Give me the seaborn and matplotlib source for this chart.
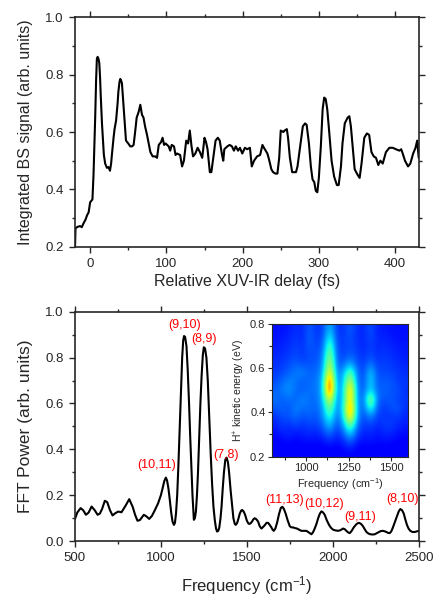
import numpy as np
import matplotlib
matplotlib.use('Agg')
import matplotlib.pyplot as plt
from matplotlib.ticker import MultipleLocator, FormatStrFormatter
import seaborn as sns

# --- top panel: integrated BS signal vs delay ---
delay = [-19.8, -19.2, -16, -13, -11, -9, -6, -4, -2, 0,
         2, 3, 4.4, 5.5, 6.6, 7.8, 8.8, 9.8, 11, 12,
         13, 14, 15.5, 16.7, 18, 19.7, 22, 24, 26, 27.5,
         28.5, 30.7, 32, 34, 36, 37, 38.5, 39.5, 40.5, 41.7,
         43, 44, 45.5, 47, 50, 52.6, 55, 57, 59, 61,
         63.6, 65.8, 68, 70, 72, 74.6, 76.8, 79, 82, 85.5,
         87.7, 90, 93, 95, 97, 99, 101, 103, 105, 107,
         110, 112, 114, 118, 120.6, 123, 126, 128.5, 130.7, 133,
         135, 138, 141, 144, 147, 150, 152, 154, 157, 159,
         162, 164.5, 167.5, 170, 173, 174.6, 176, 180, 183, 186,
         188.6, 191, 194, 196.5, 199.5, 203, 206, 209.6, 212, 215,
         219, 223, 226, 228, 232.5, 234.6, 237.7, 240, 243, 245.6,
         248, 250, 253.5, 255, 258, 259.6, 262, 265, 270, 272,
         276, 279, 282, 284, 287, 289.5, 291.7, 294, 296, 298,
         300, 302.6, 305, 307, 309, 311, 313.6, 316.7, 320, 323.7,
         326, 329, 331, 334, 337.7, 340, 342, 345, 347, 351,
         353.5, 356, 359.6, 363, 366, 369, 372, 375, 378, 380.7,
         383.8, 388, 392.5, 397, 401, 405.7, 408, 410, 413, 417,
         420, 423.7, 426.8, 429, 431]
bs_signal = [0.20, 0.265, 0.27, 0.272, 0.268, 0.28, 0.295, 0.31, 0.32, 0.355,
             0.362, 0.365, 0.45, 0.55, 0.65, 0.78, 0.855, 0.862, 0.855, 0.84,
             0.79, 0.72, 0.63, 0.58, 0.52, 0.49, 0.475, 0.478, 0.465, 0.49,
             0.52, 0.58, 0.61, 0.64, 0.70, 0.74, 0.775, 0.785, 0.78, 0.77,
             0.72, 0.68, 0.62, 0.57, 0.56, 0.55, 0.55, 0.555, 0.60, 0.65,
             0.67, 0.695, 0.66, 0.65, 0.62, 0.59, 0.56, 0.53, 0.515, 0.515,
             0.51, 0.555, 0.565, 0.58, 0.555, 0.56, 0.555, 0.55, 0.535, 0.555,
             0.55, 0.52, 0.525, 0.52, 0.48, 0.50, 0.57, 0.56, 0.605, 0.55,
             0.515, 0.525, 0.545, 0.53, 0.51, 0.58, 0.565, 0.54, 0.46, 0.46,
             0.52, 0.57, 0.58, 0.57, 0.52, 0.50, 0.54, 0.55, 0.555, 0.55,
             0.535, 0.55, 0.535, 0.545, 0.525, 0.545, 0.54, 0.545, 0.48, 0.50,
             0.515, 0.52, 0.555, 0.545, 0.525, 0.505, 0.47, 0.46, 0.455, 0.455,
             0.51, 0.605, 0.60, 0.605, 0.61, 0.58, 0.51, 0.46, 0.46, 0.48,
             0.56, 0.62, 0.63, 0.625, 0.56, 0.48, 0.435, 0.425, 0.395, 0.39,
             0.44, 0.55, 0.68, 0.72, 0.715, 0.68, 0.60, 0.50, 0.445, 0.415,
             0.415, 0.48, 0.56, 0.63, 0.65, 0.655, 0.62, 0.53, 0.47, 0.45,
             0.44, 0.49, 0.58, 0.595, 0.59, 0.53, 0.515, 0.51, 0.485, 0.50,
             0.49, 0.53, 0.545, 0.545, 0.54, 0.535, 0.54, 0.525, 0.50, 0.48,
             0.49, 0.525, 0.545, 0.57, 0.51]

# --- bottom panel: FFT power spectrum ---
freq = [500, 514, 533, 548, 564, 580, 597, 615, 632, 645,
        658, 674, 688, 704, 719, 735, 752, 771, 795, 816,
        836, 850, 864, 878, 901, 916, 932, 948, 965, 984,
        1000, 1010, 1020, 1029, 1036, 1044, 1052, 1060, 1068, 1076,
        1082, 1088, 1095, 1102, 1110, 1117, 1124, 1130, 1135, 1141,
        1149, 1156, 1164, 1171, 1178, 1184, 1192, 1198, 1204, 1210,
        1216, 1223, 1230, 1237, 1244, 1250, 1257, 1265, 1273, 1281,
        1290, 1298, 1306, 1314, 1321, 1327, 1334, 1340, 1347, 1353,
        1360, 1367, 1375, 1382, 1390, 1397, 1406, 1415, 1422, 1430,
        1436, 1444, 1452, 1459, 1467, 1473, 1481, 1490, 1500, 1508,
        1515, 1522, 1530, 1538, 1546, 1556, 1566, 1575, 1585, 1595,
        1605, 1615, 1624, 1634, 1643, 1650, 1657, 1666, 1676, 1688,
        1698, 1707, 1716, 1726, 1738, 1750, 1760, 1769, 1780, 1792,
        1805, 1817, 1832, 1847, 1862, 1876, 1886, 1895, 1905, 1915,
        1925, 1934, 1944, 1953, 1966, 1979, 1990, 2002, 2015, 2031,
        2045, 2060, 2070, 2079, 2090, 2099, 2110, 2122, 2135, 2145,
        2153, 2165, 2176, 2186, 2196, 2208, 2219, 2232, 2244, 2256,
        2269, 2280, 2292, 2302, 2312, 2322, 2331, 2340, 2350, 2362,
        2374, 2384, 2393, 2403, 2413, 2422, 2432, 2441, 2451, 2464,
        2477, 2490, 2500]
fft_power = [0.096, 0.125, 0.144, 0.135, 0.115, 0.125, 0.151, 0.135, 0.115, 0.12,
             0.14, 0.176, 0.17, 0.135, 0.112, 0.122, 0.129, 0.126, 0.155, 0.183,
             0.15, 0.115, 0.089, 0.092, 0.115, 0.108, 0.097, 0.11, 0.135, 0.165,
             0.2, 0.23, 0.262, 0.277, 0.265, 0.23, 0.18, 0.125, 0.085, 0.071,
             0.08, 0.12, 0.2, 0.33, 0.5, 0.65, 0.8, 0.875, 0.894, 0.89,
             0.85, 0.75, 0.6, 0.45, 0.32, 0.2, 0.093, 0.1, 0.13, 0.2,
             0.3, 0.45, 0.6, 0.72, 0.81, 0.845, 0.84, 0.8, 0.7, 0.55,
             0.38, 0.25, 0.15, 0.09, 0.055, 0.042, 0.045, 0.06, 0.1, 0.15,
             0.23, 0.3, 0.355, 0.364, 0.345, 0.3, 0.22, 0.15, 0.1, 0.075,
             0.071, 0.08, 0.1, 0.12, 0.133, 0.136, 0.13, 0.115, 0.09, 0.078,
             0.075, 0.078, 0.085, 0.095, 0.1, 0.095, 0.085, 0.065, 0.055, 0.062,
             0.07, 0.08, 0.08, 0.07, 0.06, 0.05, 0.045, 0.055, 0.08, 0.12,
             0.145, 0.15, 0.14, 0.12, 0.09, 0.065, 0.06, 0.06, 0.057, 0.055,
             0.05, 0.045, 0.045, 0.045, 0.037, 0.03, 0.04, 0.055, 0.075, 0.1,
             0.12, 0.13, 0.125, 0.115, 0.09, 0.07, 0.058, 0.05, 0.047, 0.045,
             0.048, 0.055, 0.052, 0.045, 0.038, 0.035, 0.045, 0.06, 0.072, 0.078,
             0.08, 0.075, 0.065, 0.052, 0.04, 0.033, 0.03, 0.029, 0.03, 0.035,
             0.04, 0.044, 0.045, 0.043, 0.04, 0.036, 0.035, 0.042, 0.06, 0.085,
             0.11, 0.13, 0.14, 0.135, 0.12, 0.095, 0.07, 0.055, 0.045, 0.04,
             0.04, 0.043, 0.045]

peak_labels = ['(9,10)', '(8,9)', '(10,11)', '(7,8)', '(11,13)', '(10,12)', '(9,11)', '(8,10)']
label_x = [1140, 1252, 975, 1378, 1720, 1950, 2157, 2405]
label_y = [0.942, 0.88, 0.33, 0.376, 0.18, 0.163, 0.105, 0.184]

# --- inset: H+ kinetic energy vs frequency map, coarse cells ---
# cells are 40 cm-1 wide (800..1600) and 0.04 eV tall (0.2..0.8), rows from low energy up
map_values = [
    [.11, .11, .11, .11, .11, .11, .11, .11, .12, .11, .12, .13, .12, .11, .11, .11, .11, .11, .11, .11],
    [.12, .12, .13, .12, .13, .13, .13, .13, .15, .13, .15, .19, .14, .13, .14, .13, .13, .13, .12, .12],
    [.13, .15, .16, .14, .15, .16, .15, .17, .22, .16, .20, .32, .19, .15, .16, .14, .16, .15, .14, .13],
    [.15, .18, .16, .19, .17, .19, .18, .22, .32, .19, .27, .48, .24, .17, .19, .16, .18, .19, .16, .15],
    [.17, .20, .21, .23, .20, .22, .20, .26, .42, .22, .33, .76, .28, .19, .25, .18, .18, .17, .18, .16],
    [.21, .23, .20, .26, .23, .24, .22, .28, .52, .24, .35, .86, .28, .21, .42, .21, .18, .20, .22, .17],
    [.24, .21, .24, .22, .26, .23, .23, .30, .68, .25, .33, .76, .27, .22, .58, .23, .20, .22, .18, .18],
    [.22, .25, .27, .23, .22, .24, .23, .32, .93, .26, .32, .80, .26, .21, .36, .22, .23, .20, .21, .17],
    [.20, .23, .26, .24, .21, .23, .24, .31, .92, .25, .31, .64, .25, .20, .35, .21, .21, .22, .18, .18],
    [.18, .20, .22, .25, .26, .22, .23, .28, .74, .24, .29, .50, .24, .19, .34, .20, .20, .19, .18, .17],
    [.17, .18, .20, .22, .20, .21, .21, .26, .63, .22, .22, .30, .21, .18, .25, .18, .19, .18, .17, .16],
    [.16, .17, .18, .20, .18, .20, .20, .24, .56, .21, .19, .22, .19, .17, .20, .17, .18, .17, .16, .15],
    [.15, .16, .17, .19, .17, .22, .19, .22, .48, .20, .18, .20, .18, .16, .19, .16, .17, .16, .15, .15],
    [.14, .15, .16, .18, .16, .23, .18, .20, .40, .19, .18, .21, .17, .16, .20, .16, .16, .15, .14, .14],
    [.14, .14, .15, .17, .16, .22, .17, .19, .32, .18, .17, .22, .17, .16, .21, .15, .15, .14, .14, .14],
]
map_freq_range = [800, 1600]
map_energy_range = [0.2, 0.8]

sns.set_style('ticks')
plt.rcParams['font.family'] = ['Liberation Sans', 'DejaVu Sans']
plt.rcParams['mathtext.default'] = 'regular'
plt.rcParams['axes.linewidth'] = 1.2

fig = plt.figure(figsize=(4.33, 5.96), dpi=100)
ax1 = fig.add_axes([0.173, 0.586, 0.794, 0.385])
ax2 = fig.add_axes([0.173, 0.092, 0.794, 0.385])
ax3 = fig.add_axes([0.629, 0.234, 0.313, 0.222])

sns.lineplot(x=delay, y=bs_signal, ax=ax1, color='black', linewidth=1.5)
ax1.set_xlim(-20, 431)
ax1.set_ylim(0.2, 1.0)
ax1.xaxis.set_major_locator(MultipleLocator(100))
ax1.xaxis.set_minor_locator(MultipleLocator(50))
ax1.yaxis.set_major_locator(MultipleLocator(0.2))
ax1.yaxis.set_minor_locator(MultipleLocator(0.1))
ax1.set_xlabel('Relative XUV-IR delay (fs)', fontsize=11.5, labelpad=3)
ax1.set_ylabel('Integrated BS signal (arb. units)', fontsize=11.5, labelpad=9)

sns.lineplot(x=freq, y=fft_power, ax=ax2, color='black', linewidth=1.5)
ax2.set_xlim(500, 2500)
ax2.set_ylim(0, 1.0)
ax2.xaxis.set_major_locator(MultipleLocator(500))
ax2.xaxis.set_minor_locator(MultipleLocator(250))
ax2.yaxis.set_major_locator(MultipleLocator(0.2))
ax2.yaxis.set_minor_locator(MultipleLocator(0.1))
ax2.set_xlabel('Frequency (cm$^{-1}$)', fontsize=12, labelpad=7)
ax2.set_ylabel('FFT Power (arb. units)', fontsize=12.5, labelpad=9)
for lab, lx, ly in zip(peak_labels, label_x, label_y):
    ax2.text(lx, ly, lab, color='red', fontsize=9, ha='center', va='center')

for ax in (ax1, ax2):
    ax.tick_params(which='both', direction='out', top=True, right=True, labelsize=9.5, width=1, pad=4)
    ax.tick_params(which='major', length=4)
    ax.tick_params(which='minor', length=2.5)
    ax.yaxis.set_major_formatter(FormatStrFormatter('%.1f'))

ax3.imshow(np.array(map_values), cmap='jet', vmin=0, vmax=1, origin='lower', aspect='auto',
           interpolation='bicubic', extent=map_freq_range + map_energy_range)
ax3.set_xlim(800, 1600)
ax3.set_ylim(0.2, 0.8)
ax3.xaxis.set_major_locator(MultipleLocator(250))
ax3.xaxis.set_minor_locator(MultipleLocator(125))
ax3.yaxis.set_major_locator(MultipleLocator(0.2))
ax3.yaxis.set_minor_locator(MultipleLocator(0.1))
ax3.yaxis.set_major_formatter(FormatStrFormatter('%.1f'))
ax3.tick_params(which='both', direction='out', labelsize=8, width=0.8, pad=2)
ax3.tick_params(which='major', length=3)
ax3.tick_params(which='minor', length=2)
ax3.set_xlabel('Frequency (cm$^{-1}$)', fontsize=7.8, labelpad=2)
ax3.set_ylabel('H$^{+}$ kinetic energy (eV)', fontsize=7.5, labelpad=2)
for s in ax3.spines.values():
    s.set_linewidth(0.8)

fig.savefig('out.png', dpi=100)
